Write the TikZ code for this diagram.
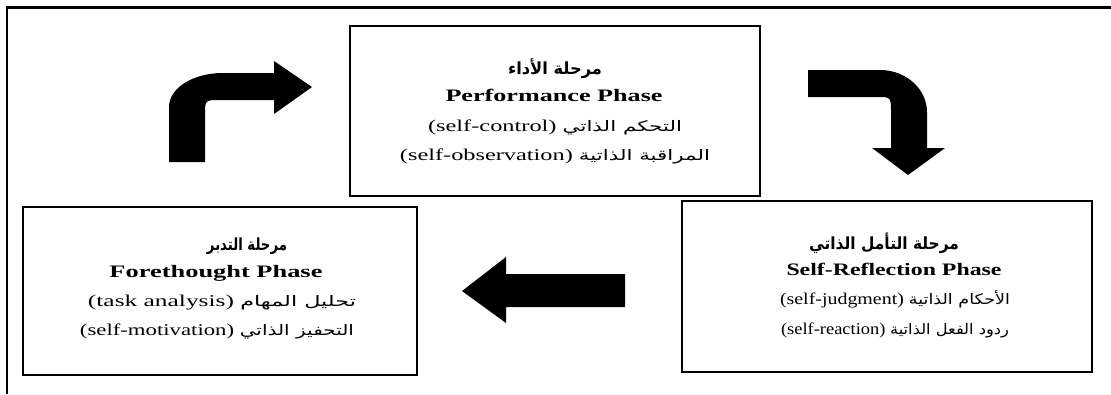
\documentclass[tikz,border=0pt]{standalone}
\usepackage{graphicx}
\usepackage{fontspec}
\setmainfont{Liberation Serif}
\newfontfamily\arabicfont[Script=Arabic,Scale=0.88]{DejaVu Sans}
\TeXXeTstate=1
\newcommand\ar[1]{{\arabicfont\beginR #1\endR}}
\newcommand\arb[1]{{\arabicfont\bfseries\beginR #1\endR}}
\newcommand\fitw[2]{\resizebox{#1}{\height}{#2}}
\tikzset{
  phasebox/.style={draw=black, line width=2.4bp, fill=none, inner sep=0pt, outer sep=0pt},
  txt/.style={inner sep=0pt, text height=12bp, text depth=3bp, anchor=center,
              font=\fontsize{16.5bp}{19bp}\selectfont},
  ttl/.style={txt, font=\fontsize{17.5bp}{19bp}\selectfont\bfseries},
  artl/.style={txt, font=\fontsize{19bp}{21bp}\selectfont},
  blockarrow/.style={fill=black, draw=none},
  frame/.style={draw=black, line width=2.5bp}
}
\begin{document}
\begin{tikzpicture}[x=1bp, y=-1bp]
\useasboundingbox (0,0) rectangle (1111,394);
\fill[white] (0,0) rectangle (1111,394);
% outer frame
\coordinate (fa) at (7,394);
\coordinate (fb) at (7,7.5);
\coordinate (fc) at (1111,7.5);
\draw[frame] (fa) -- (fb) -- (fc);
% boxes
\node[phasebox, minimum width=410bp, minimum height=170bp] (perf) at (555,111) {};
\node[phasebox, minimum width=394bp, minimum height=168bp] (fore) at (220,291) {};
\node[phasebox, minimum width=410bp, minimum height=171bp] (refl) at (887,286.5) {};
% performance texts
\node[artl] (perfA) at (555,70) {\fitw{94bp}{\arb{مرحلة الأداء}}};
\node[ttl] (perfB) at (554,97) {\fitw{217bp}{Performance Phase}};
\node[txt] (perfC) at (555,127) {\fitw{254bp}{(self-control) \ar{التحكم الذاتي}}};
\node[txt] (perfD) at (555,156) {\fitw{310bp}{(self-observation) \ar{المراقبة الذاتية}}};
% forethought texts
\node[artl] (foreA) at (247,246) {\fitw{80bp}{\arb{مرحلة التدبر}}};
\node[ttl] (foreB) at (216,273) {\fitw{213bp}{Forethought Phase}};
\node[txt] (foreC) at (222,302) {\fitw{268bp}{(task analysis) \ar{تحليل المهام}}};
\node[txt] (foreD) at (217,331) {\fitw{274bp}{(self-motivation) \ar{التحفيز الذاتي}}};
% self-reflection texts
\node[artl] (reflA) at (884,245) {\fitw{150bp}{\arb{مرحلة التأمل الذاتي}}};
\node[ttl] (reflB) at (894,271) {\fitw{215bp}{Self-Reflection Phase}};
\node[txt] (reflC) at (895,300) {\fitw{230bp}{(self-judgment) \ar{الأحكام الذاتية}}};
\node[txt] (reflD) at (895,330) {\fitw{228bp}{(self-reaction) \ar{ردود الفعل الذاتية}}};
% block arrows
\fill[blockarrow] (169,162) -- (169,107) .. controls (169,88) and (193,73) .. (223,73) -- (274,73)
  -- (274,61) -- (312,87) -- (274,114) -- (274,100) -- (220,100)
  .. controls (205,100) .. (205,115) -- (205,162) -- cycle;
\fill[blockarrow] (808,70) -- (880,70) .. controls (906,70) and (927,89) .. (927,112) -- (927,148)
  -- (945,148) -- (908,175) -- (872,148) -- (891,148) -- (891,113)
  .. controls (891,97) .. (877,97) -- (808,97) -- cycle;
\fill[blockarrow] (625,274) -- (506,274) -- (506,257) -- (462,291) -- (506,323)
  -- (506,307) -- (625,307) -- cycle;
\end{tikzpicture}
\end{document}
